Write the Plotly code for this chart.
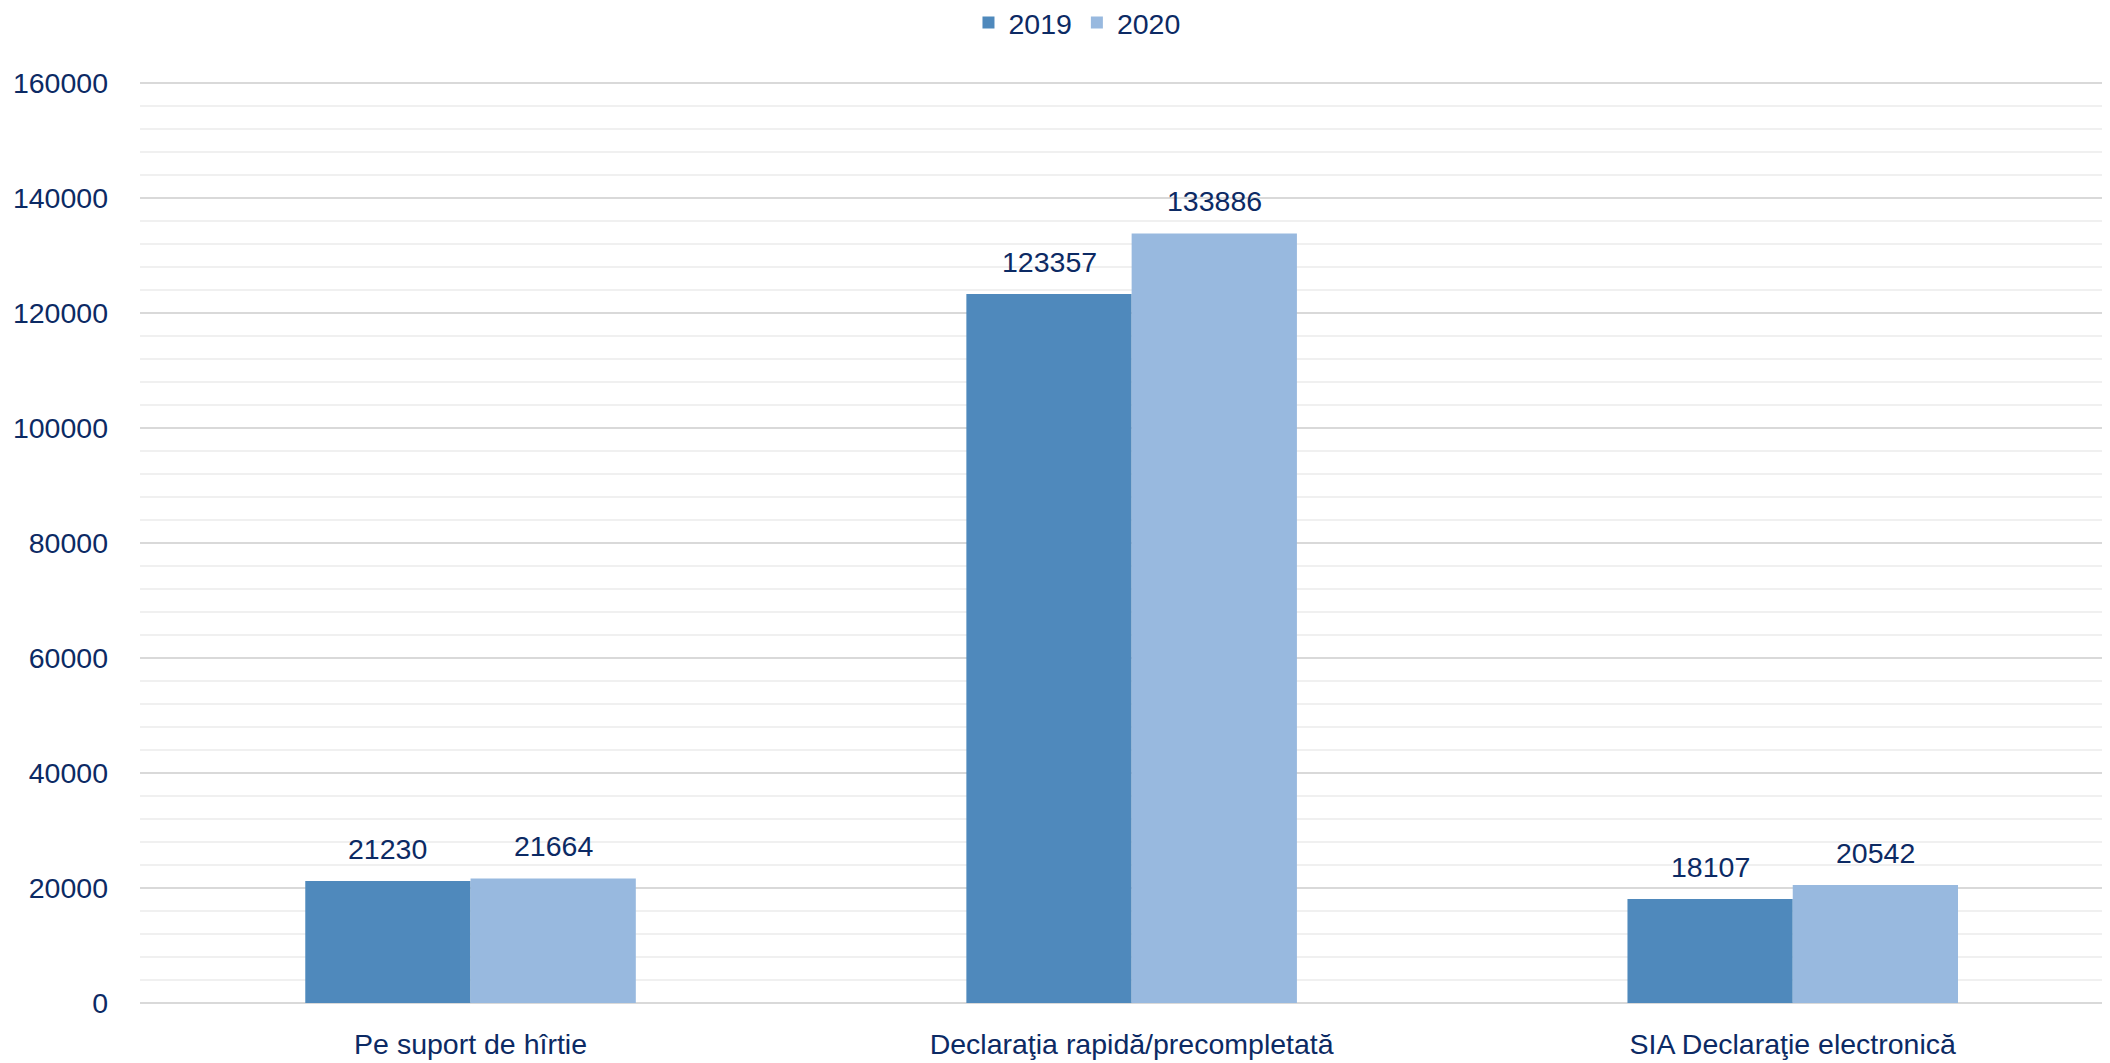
import plotly.graph_objects as go

categories = ["Pe suport de hîrtie", "Declaraţia rapidă/precompletată", "SIA Declaraţie electronică"]
series_names = ["2019", "2020"]
values_2019 = [21230, 123357, 18107]
values_2020 = [21664, 133886, 20542]
y_tick_vals = [0, 20000, 40000, 60000, 80000, 100000, 120000, 140000, 160000]
y_tick_text = [str(v) for v in y_tick_vals]

colors = ["#4F89BC", "#98B9DF"]
text_color = "#0C2A64"
FONT = "Liberation Sans Narrow, Arial Narrow, Liberation Sans, Arial, sans-serif"
FS = 28.5

fig = go.Figure()
x_idx = list(range(len(categories)))
for name, vals, col in zip(series_names, [values_2019, values_2020], colors):
    fig.add_trace(go.Bar(
        name=name, x=x_idx, y=vals, marker=dict(color=col, line=dict(width=0)),
    ))

# data labels
half = 0.125
for k, vals in enumerate([values_2019, values_2020]):
    off = -half if k == 0 else half
    for i, v in enumerate(vals):
        fig.add_annotation(x=i + off, y=v, text=str(v), showarrow=False,
                           yanchor="bottom", yshift=14,
                           font=dict(family=FONT, size=FS, color=text_color))

fig.update_layout(
    width=2110, height=1063,
    margin=dict(l=132, r=0, t=73, b=68, autoexpand=False),
    paper_bgcolor="white", plot_bgcolor="white",
    barmode="group", bargap=0.5, bargroupgap=0,
    font=dict(family=FONT, size=FS, color=text_color),
    legend=dict(orientation="h", x=0.4737, xanchor="center", y=1.0629, yref="paper",
                yanchor="middle", font=dict(family=FONT, size=FS, color=text_color),
                itemwidth=30, traceorder="normal"),
    showlegend=True,
)
fig.update_xaxes(
    tickmode="array", tickvals=x_idx, ticktext=categories,
    range=[-0.5, 2.492], showgrid=False, zeroline=False, showline=False,
    ticks="", ticklabelstandoff=21,
    tickfont=dict(family=FONT, size=FS, color=text_color),
)
fig.update_yaxes(
    range=[0, 160400], tickmode="array", tickvals=y_tick_vals, ticktext=y_tick_text,
    showgrid=True, gridcolor="#D9D9D9", gridwidth=2,
    minor=dict(dtick=4000, showgrid=True, gridcolor="#F0F0F0", gridwidth=2),
    zeroline=True, zerolinecolor="#D9D9D9", zerolinewidth=2,
    showline=False, ticks="", ticklabelstandoff=31,
    tickfont=dict(family=FONT, size=FS, color=text_color),
)

fig.write_html("out.html")
